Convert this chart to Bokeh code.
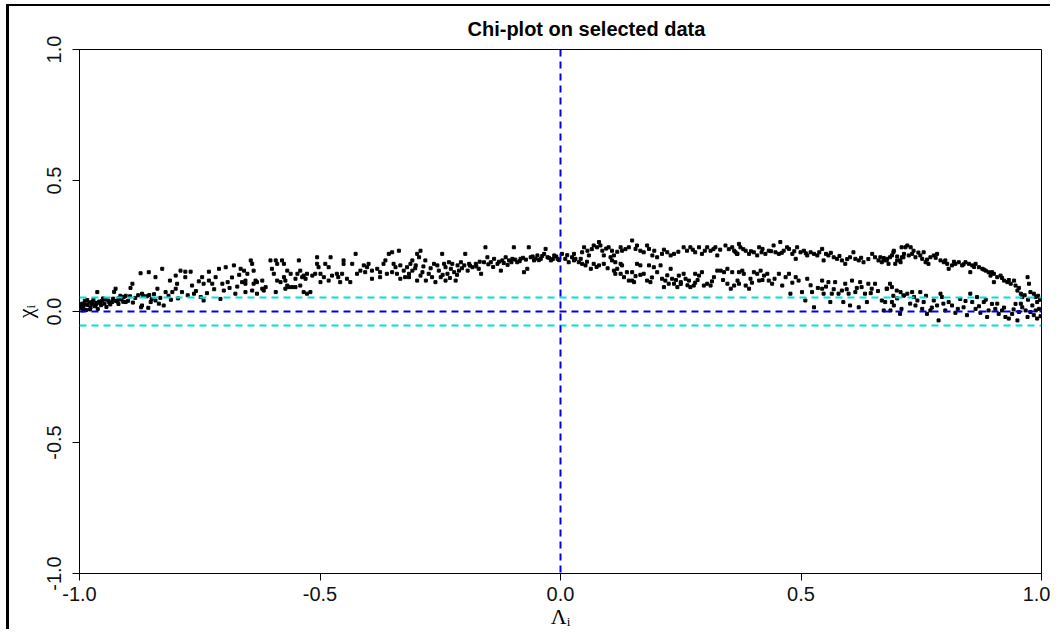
from bokeh.plotting import figure
from bokeh.models import Span, FixedTicker, Range1d
from bokeh.embed import file_html
from bokeh.resources import INLINE

# ---- data (Lambda_i, Chi_i) ----
left_branch = [
    (-0.998,0.012),(-0.995,0.030),(-0.992,0.018),(-0.989,0.041),(-0.986,0.006),(-0.983,0.025),(-0.980,0.035),
    (-0.977,0.015),(-0.974,0.028),(-0.971,0.045),(-0.968,0.020),(-0.965,0.033),(-0.962,0.010),(-0.959,0.038),
    (-0.955,0.024),(-0.951,0.050),(-0.948,0.030),(-0.944,0.017),(-0.940,0.042),(-0.936,0.027),(-0.932,0.036),
    (-0.928,0.075),(-0.924,0.040),(-0.919,0.029),(-0.914,0.046),(-0.909,0.037),(-0.904,0.060),(-0.899,0.041),
    (-0.894,0.090),(-0.889,0.034),(-0.997,0.022),(-0.993,0.004),(-0.988,0.027),(-0.984,0.044),(-0.978,0.008),
    (-0.973,0.037),(-0.966,0.026),(-0.957,0.031),(-0.953,0.041),(-0.946,0.046),(-0.938,0.034),(-0.930,0.049),
    (-0.921,0.038),(-0.912,0.052),
    (-0.925,0.087),(-0.963,0.074),(-0.890,0.106),(-0.873,0.146),(-0.856,0.150),(-0.828,0.163),(-0.842,0.131),
    (-0.838,0.087),(-0.870,0.068),(-0.919,0.050),(-0.904,0.036),(-0.870,0.023),(-0.852,0.036),(-0.842,0.042),
    (-0.825,0.023),(-0.821,0.074),(-0.807,0.074),(-0.800,0.087),(-0.800,0.137),(-0.790,0.156),(-0.780,0.152),
    (-0.769,0.152),(-0.780,0.131),(-0.797,0.106),(-0.787,0.074),(-0.766,0.099),(-0.762,0.068),(-0.748,0.055),
    (-0.742,0.042),(-0.745,0.131),(-0.742,0.106),(-0.731,0.152),(-0.731,0.118),(-0.724,0.106),(-0.717,0.131),
    (-0.710,0.163),(-0.703,0.106),(-0.700,0.080),(-0.696,0.169),(-0.707,0.048),(-0.679,0.176),(-0.676,0.068),
    (-0.665,0.163),(-0.662,0.112),(-0.692,0.112),(-0.868,0.060),(-0.860,0.058),(-0.855,0.063),(-0.872,0.016),
    (-0.857,0.014),(-0.835,0.030),
    (-0.915,0.060),(-0.908,0.055),(-0.895,0.058),(-0.884,0.052),(-0.878,0.062),(-0.850,0.048),(-0.845,0.066),
    (-0.832,0.052),(-0.815,0.060),(-0.810,0.045),(-0.795,0.050),(-0.775,0.062),(-0.758,0.078),(-0.735,0.070),
    (-0.720,0.085),(-0.688,0.090),(-0.672,0.095),(-0.683,0.130),(-0.668,0.140),(-0.752,0.115),(-0.812,0.118),
    (-0.658,0.156),(-0.651,0.144),(-0.644,0.195),(-0.641,0.182),(-0.655,0.118),(-0.655,0.106),(-0.638,0.156),
    (-0.634,0.118),(-0.638,0.106),(-0.631,0.112),(-0.620,0.118),(-0.613,0.093),(-0.617,0.080),(-0.655,0.074),
    (-0.641,0.080),(-0.631,0.068),(-0.603,0.195),(-0.600,0.163),(-0.596,0.144),(-0.592,0.195),(-0.589,0.182),
    (-0.579,0.195),(-0.575,0.182),(-0.575,0.131),(-0.589,0.118),(-0.582,0.112),(-0.572,0.118),(-0.568,0.156),
    (-0.568,0.099),(-0.561,0.144),(-0.558,0.093),(-0.551,0.125),(-0.547,0.144),(-0.544,0.195),(-0.541,0.156),
    (-0.537,0.131),(-0.541,0.099),(-0.534,0.137),(-0.530,0.125),(-0.527,0.144),(-0.516,0.137),(-0.510,0.144),
    (-0.506,0.207),(-0.506,0.182),(-0.503,0.169),(-0.499,0.144),(-0.499,0.112),(-0.492,0.131),(-0.489,0.182),
    (-0.482,0.169),(-0.478,0.207),(-0.482,0.118),(-0.475,0.137),(-0.465,0.144),(-0.462,0.131),(-0.458,0.112),
    (-0.451,0.182),(-0.451,0.195),(-0.454,0.144),(-0.444,0.125),(-0.437,0.112),(-0.426,0.220),(-0.433,0.182),
    (-0.423,0.144),(-0.416,0.156),(-0.409,0.176),(-0.402,0.169),(-0.406,0.150),(-0.399,0.182),(-0.392,0.125),
    (-0.392,0.156),(-0.381,0.163),(-0.375,0.150),(-0.368,0.182),(-0.364,0.195),(-0.357,0.220),(-0.350,0.226),
    (-0.347,0.182),(-0.343,0.169),(-0.340,0.144),(-0.336,0.232),(-0.333,0.176),(-0.326,0.156),(-0.323,0.131),
    (-0.319,0.169),(-0.333,0.125),(-0.361,0.144),(-0.350,0.150),(-0.375,0.131),(-0.620,0.087),(-0.592,0.074),
    (-0.572,0.087),(-0.565,0.093),(-0.551,0.093),(-0.534,0.074),(-0.520,0.074),(-0.527,0.068),
    (-0.308,0.195),(-0.312,0.182),(-0.308,0.156),(-0.301,0.176),(-0.298,0.220),(-0.291,0.232),(-0.294,0.207),
    (-0.315,0.144),(-0.315,0.131),(-0.298,0.118),(-0.291,0.137),(-0.287,0.150),(-0.281,0.195),(-0.274,0.144),
    (-0.267,0.131),(-0.263,0.182),(-0.256,0.176),(-0.253,0.156),(-0.249,0.131),(-0.246,0.220),(-0.242,0.182),
    (-0.239,0.169),(-0.235,0.144),(-0.232,0.188),(-0.228,0.163),(-0.225,0.182),(-0.221,0.150),(-0.218,0.118),
    (-0.214,0.176),(-0.211,0.156),(-0.207,0.188),(-0.200,0.176),(-0.198,0.220),(-0.193,0.156),(-0.190,0.182),
    (-0.183,0.169),(-0.176,0.182),(-0.170,0.163),(-0.165,0.144),(-0.159,0.188),(-0.156,0.245),(-0.152,0.207),
    (-0.145,0.188),(-0.138,0.201),(-0.131,0.182),(-0.124,0.156),(-0.121,0.195),(-0.114,0.207),(-0.107,0.195),
    (-0.097,0.245),(-0.100,0.201),(-0.090,0.188),(-0.083,0.201),(-0.076,0.150),(-0.069,0.163),(-0.066,0.245),
    (-0.062,0.207),(-0.055,0.195),(-0.048,0.214),(-0.041,0.201),(-0.034,0.220),(-0.031,0.239),(-0.027,0.207),
    (-0.020,0.195),(-0.013,0.214),(-0.006,0.201),(-0.260,0.112),(-0.239,0.118),(-0.280,0.118),(-0.270,0.165),
    (-0.285,0.172),(-0.302,0.165),(-0.245,0.140),(-0.230,0.128),(-0.215,0.140),(-0.205,0.165),(-0.188,0.175),
    (-0.175,0.172),(-0.168,0.190),(-0.150,0.180),(-0.140,0.170),(-0.128,0.190),(-0.118,0.185),(-0.110,0.178),
    (-0.102,0.188),(-0.094,0.198),(-0.085,0.192),(-0.078,0.205),(-0.072,0.198),(-0.058,0.210),(-0.052,0.202),
    (-0.045,0.196),(-0.038,0.212),(-0.024,0.205),(-0.016,0.200),(-0.009,0.210),(-0.003,0.196),
]

upper_right_branch = [
    (0.003,0.220),(0.010,0.201),(0.017,0.188),(0.024,0.207),(0.028,0.220),(0.031,0.201),(0.038,0.188),
    (0.049,0.245),(0.056,0.232),(0.059,0.214),(0.069,0.252),(0.076,0.245),(0.080,0.265),(0.083,0.252),
    (0.087,0.232),(0.090,0.214),(0.100,0.245),(0.107,0.232),(0.111,0.214),(0.125,0.245),(0.128,0.232),
    (0.142,0.245),(0.149,0.271),(0.156,0.239),(0.159,0.252),(0.166,0.232),(0.173,0.226),(0.180,0.252),
    (0.184,0.239),(0.191,0.214),(0.201,0.207),(0.211,0.220),(0.222,0.226),(0.229,0.214),(0.236,0.220),
    (0.256,0.245),(0.263,0.232),(0.270,0.245),(0.280,0.226),(0.288,0.245),(0.294,0.220),(0.305,0.245),
    (0.312,0.232),(0.322,0.245),(0.326,0.214),(0.343,0.252),(0.357,0.245),(0.361,0.232),(0.368,0.220),
    (0.014,0.215),(0.045,0.226),(0.065,0.238),(0.095,0.240),(0.118,0.228),(0.135,0.238),(0.195,0.232),
    (0.215,0.236),(0.245,0.228),(0.275,0.236),(0.300,0.232),(0.318,0.238),(0.332,0.236),(0.350,0.238),
    (0.371,0.258),(0.374,0.245),(0.364,0.226),(0.367,0.220),(0.385,0.232),(0.392,0.220),(0.402,0.226),
    (0.409,0.214),(0.413,0.245),(0.420,0.239),(0.426,0.220),(0.433,0.232),(0.443,0.252),(0.447,0.226),
    (0.454,0.220),(0.457,0.265),(0.464,0.232),(0.471,0.245),(0.475,0.239),(0.482,0.220),(0.489,0.201),
    (0.492,0.245),(0.499,0.226),(0.506,0.232),(0.513,0.214),(0.520,0.226),(0.527,0.220),(0.534,0.214),
    (0.544,0.239),(0.547,0.195),(0.557,0.214),(0.568,0.207),(0.575,0.201),(0.585,0.195),(0.592,0.182),
    (0.602,0.207),(0.609,0.226),(0.613,0.201),(0.620,0.195),(0.630,0.188),(0.648,0.220),(0.654,0.207),
    (0.661,0.195),(0.668,0.188),(0.678,0.195),(0.685,0.207),(0.692,0.226),(0.696,0.182),(0.706,0.195),
    (0.709,0.245),(0.713,0.207),
    (0.380,0.238),(0.396,0.230),(0.418,0.226),(0.438,0.230),(0.460,0.224),(0.486,0.230),(0.510,0.222),
    (0.538,0.226),(0.552,0.220),(0.562,0.224),(0.580,0.212),(0.596,0.200),(0.625,0.205),(0.640,0.200),
    (0.672,0.204),(0.700,0.210),
    (0.665,0.207),(0.672,0.195),(0.679,0.201),(0.682,0.182),(0.689,0.214),(0.693,0.232),(0.700,0.195),
    (0.707,0.188),(0.710,0.207),(0.714,0.220),(0.717,0.245),(0.721,0.252),(0.728,0.245),(0.724,0.214),
    (0.731,0.220),(0.738,0.207),(0.748,0.214),(0.752,0.201),(0.755,0.226),(0.759,0.188),(0.765,0.182),
    (0.769,0.207),(0.776,0.214),(0.783,0.220),(0.790,0.195),(0.797,0.188),(0.804,0.182),(0.807,0.163),
    (0.814,0.176),(0.821,0.182),(0.828,0.188),(0.835,0.176),(0.842,0.188),(0.849,0.182),(0.852,0.150),
    (0.856,0.176),(0.863,0.182),(0.870,0.169),(0.877,0.163),(0.884,0.156),(0.890,0.150),(0.894,0.137),
    (0.901,0.144),(0.908,0.131),(0.901,0.112),(0.915,0.137),(0.922,0.118),(0.929,0.112),(0.936,0.106),
    (0.943,0.118),(0.946,0.099),(0.950,0.080),(0.957,0.068),(0.960,0.055),(0.971,0.131),(0.974,0.106),
    (0.977,0.074),(0.984,0.068),(0.988,0.055),
    (0.734,0.232),(0.744,0.225),(0.762,0.198),(0.780,0.205),(0.800,0.195),(0.818,0.190),(0.838,0.180),
    (0.860,0.170),(0.880,0.160),(0.897,0.150),(0.918,0.128),(0.932,0.120),(0.953,0.090),(0.965,0.062),
    (0.993,0.060),(0.997,0.045),
]

lower_right_branch = [
    (0.028,0.195),(0.042,0.201),(0.045,0.182),(0.052,0.176),(0.063,0.163),(0.069,0.182),(0.080,0.176),
    (0.090,0.182),(0.104,0.207),(0.107,0.195),(0.114,0.188),(0.118,0.163),(0.125,0.182),(0.128,0.176),
    (0.111,0.156),(0.114,0.144),(0.125,0.144),(0.132,0.131),(0.142,0.118),(0.149,0.118),(0.153,0.112),
    (0.159,0.182),(0.166,0.176),(0.173,0.144),(0.180,0.118),(0.187,0.112),(0.184,0.176),(0.194,0.169),
    (0.201,0.150),(0.208,0.176),(0.211,0.125),(0.215,0.093),(0.218,0.118),(0.225,0.106),(0.229,0.163),
    (0.232,0.125),(0.236,0.106),(0.243,0.093),(0.246,0.137),(0.250,0.112),(0.256,0.144),(0.260,0.125),
    (0.267,0.118),(0.270,0.093),(0.277,0.099),(0.280,0.144),(0.288,0.137),(0.294,0.150),(0.298,0.099),
    (0.305,0.106),(0.312,0.099),(0.319,0.131),(0.326,0.156),(0.333,0.156),(0.340,0.150),(0.347,0.163),
    (0.357,0.150),(0.347,0.106),(0.354,0.087),(0.361,0.099),(0.368,0.118),(0.149,0.150),(0.166,0.140),
    (0.156,0.135),(0.264,0.100),(0.250,0.105),(0.280,0.110),
    (0.055,0.190),(0.075,0.170),(0.098,0.165),(0.138,0.150),(0.190,0.130),(0.222,0.138),(0.240,0.120),
    (0.285,0.120),(0.315,0.115),(0.338,0.120),
    (0.371,0.150),(0.378,0.156),(0.381,0.144),(0.371,0.106),(0.385,0.099),(0.392,0.087),(0.395,0.125),
    (0.402,0.150),(0.409,0.144),(0.413,0.118),(0.416,0.156),(0.423,0.137),(0.430,0.144),(0.433,0.118),
    (0.440,0.106),(0.454,0.144),(0.461,0.099),(0.468,0.131),(0.475,0.144),(0.478,0.068),(0.489,0.131),
    (0.495,0.118),(0.502,0.074),(0.509,0.042),(0.513,0.125),(0.523,0.074),(0.527,0.016),(0.544,0.118),
    (0.544,0.087),(0.547,0.068),(0.557,0.112),(0.561,0.036),(0.564,0.068),(0.571,0.112),(0.578,0.068),
    (0.585,0.080),(0.588,0.036),(0.592,0.106),(0.599,0.068),(0.602,0.023),(0.606,0.118),(0.613,0.074),
    (0.620,0.016),(0.623,0.112),(0.626,0.093),(0.633,0.068),(0.637,0.036),(0.640,0.106),(0.647,0.087),
    (0.654,0.106),(0.668,0.042),(0.678,0.087),(0.685,0.106),(0.689,0.036),(0.699,0.080),(0.706,-0.009),
    (0.709,0.010),(0.713,0.061),
    (0.398,0.110),(0.420,0.120),(0.445,0.125),(0.482,0.110),(0.520,0.100),(0.535,0.090),(0.552,0.095),
    (0.568,0.085),(0.595,0.085),(0.616,0.090),(0.645,0.070),(0.660,0.078),(0.692,0.060),
    (0.679,0.087),(0.689,0.093),(0.675,0.036),(0.693,0.023),(0.672,0.004),(0.686,0.004),(0.707,0.074),
    (0.714,0.061),(0.721,0.068),(0.731,0.074),(0.735,0.055),(0.742,0.042),(0.748,0.074),(0.738,0.023),
    (0.752,0.010),(0.755,0.036),(0.762,-0.009),(0.769,0.004),(0.776,0.042),(0.783,0.023),(0.790,0.068),
    (0.793,0.055),(0.786,-0.034),(0.800,0.004),(0.807,0.036),(0.814,0.023),(0.821,-0.005),(0.831,0.048),
    (0.838,0.016),(0.845,-0.014),(0.852,0.068),(0.856,0.036),(0.863,0.010),(0.866,0.055),(0.873,-0.005),
    (0.880,0.036),(0.887,-0.021),(0.890,0.004),(0.897,0.029),(0.904,0.010),(0.911,-0.009),(0.918,0.004),
    (0.925,-0.021),(0.932,-0.027),(0.939,-0.009),(0.946,0.029),(0.950,-0.034),(0.953,-0.002),(0.960,0.016),
    (0.967,0.004),(0.971,-0.021),(0.977,-0.002),(0.981,0.023),(0.984,-0.014),(0.988,0.004),(0.991,-0.027),
    (0.991,0.036),
    (0.700,0.050),(0.727,0.030),(0.760,0.060),(0.772,0.015),(0.796,0.030),(0.826,0.010),(0.842,0.040),
    (0.870,0.020),(0.884,0.045),(0.908,0.030),(0.922,0.015),(0.942,0.008),(0.957,0.030),(0.972,0.045),
    (0.995,0.010),(0.998,-0.018),
]

tick_values = [-1.0, -0.5, 0.0, 0.5, 1.0]
tick_labels = ["-1.0", "-0.5", "0.0", "0.5", "1.0"]
control_limit = 0.053   # +/- control band (cyan)

points = left_branch + upper_right_branch + lower_right_branch
lam = [pt[0] for pt in points]
chi = [pt[1] for pt in points]

p = figure(width=1044, height=625, output_backend="svg", toolbar_location=None,
           x_range=Range1d(-1, 1), y_range=Range1d(-1, 1),
           min_border_left=70, min_border_right=12, min_border_top=43, min_border_bottom=58,
           title="Chi-plot on selected data")
p.styles = {"margin-left": "6px", "margin-top": "4px",
            "border-left": "3px solid black", "border-top": "2px solid black"}

p.title.align = "left"
p.title.offset = 388
p.title.text_font = "Liberation Sans"
p.title.text_font_style = "bold"
p.title.text_font_size = "20px"
p.title.text_color = "black"
p.title.standoff = 19

p.grid.visible = False
p.outline_line_color = "black"
p.outline_line_alpha = 1.0
p.outline_line_width = 1

for ax in (p.xaxis[0], p.yaxis[0]):
    ax.ticker = FixedTicker(ticks=tick_values)
    ax.major_label_overrides = {v: s for v, s in zip(tick_values, tick_labels)}
    ax.minor_tick_line_color = None
    ax.major_tick_in = 0
    ax.major_tick_out = 7
    ax.major_tick_line_color = "black"
    ax.axis_line_color = "black"
    ax.major_label_text_font = "Liberation Sans"
    ax.major_label_text_font_size = "20px"
    ax.major_label_text_color = "#111111"
    ax.axis_label_text_font = "Liberation Serif"
    ax.axis_label_text_font_style = "normal"
    ax.axis_label_text_font_size = "22px"
    ax.axis_label_text_color = "black"

p.xaxis.axis_label = "Λᵢ"
p.yaxis.axis_label = "χᵢ"
p.xaxis.major_label_standoff = 6
p.xaxis.axis_label_standoff = 0
p.yaxis.major_label_orientation = "vertical"
p.yaxis.major_label_standoff = 12
p.yaxis.axis_label_standoff = 6

p.scatter(lam, chi, marker="square", size=3, color="black")

p.add_layout(Span(location=control_limit, dimension="width", line_color="#00E0E0", line_dash="7 5", line_width=2))
p.add_layout(Span(location=-control_limit, dimension="width", line_color="#00E0E0", line_dash="7 5", line_width=2))
p.add_layout(Span(location=0, dimension="width", line_color="#0000EE", line_dash="7 5", line_width=2))
p.add_layout(Span(location=0, dimension="height", line_color="#0000EE", line_dash="7 5", line_width=2))

open("out.html", "w").write(file_html(p, INLINE))
